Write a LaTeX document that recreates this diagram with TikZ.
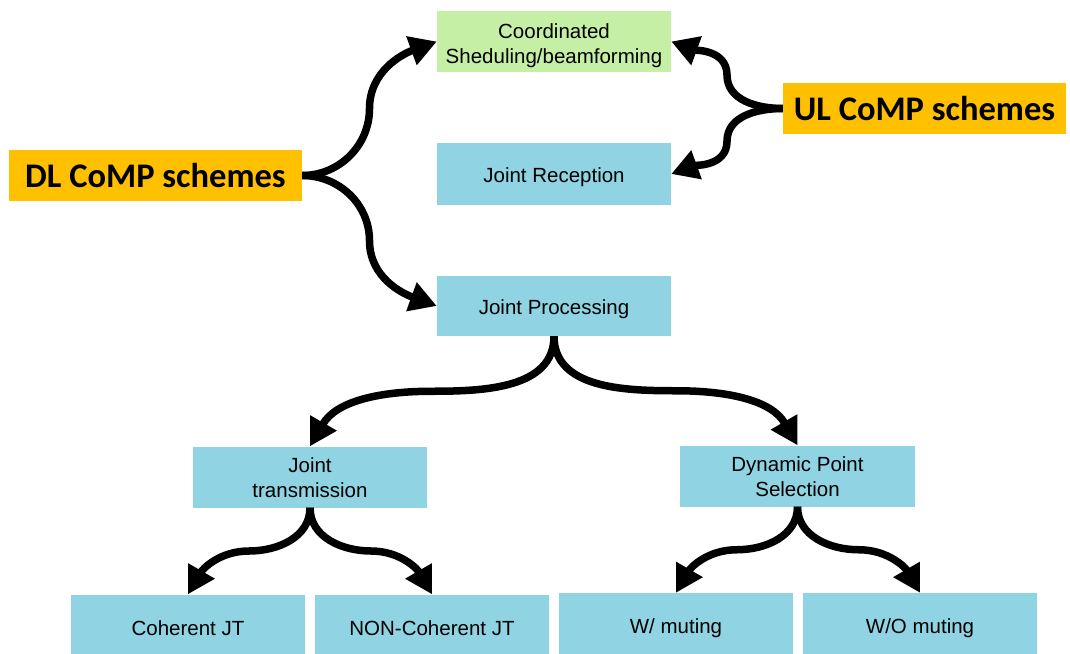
\documentclass[tikz,border=0pt]{standalone}
\usepackage{fontspec}
\setmainfont{Liberation Sans}
\newfontfamily\headfont{Carlito}
\usetikzlibrary{arrows.meta,calc}
\definecolor{boxblue}{RGB}{144,212,228}
\definecolor{boxgreen}{RGB}{198,239,166}
\definecolor{headorange}{RGB}{255,192,0}
\tikzset{
  item/.style={fill=boxblue, draw=none, inner sep=0pt, minimum width=234pt, minimum height=61pt,
    align=center, font=\fontsize{20.5}{25}\selectfont},
  oneline/.style={text height=17.5pt, text depth=0pt},
  head/.style={fill=headorange, draw=none, inner sep=0pt, minimum height=51pt,
    font=\headfont\bfseries\fontsize{34.5}{36}\selectfont},
  conn/.style={line width=7.5pt, -{Triangle[length=27pt,width=29pt]}, black}
}
\begin{document}
\begin{tikzpicture}[x=1pt,y=-1pt]
\useasboundingbox (0,0) rectangle (1070,653);

% scheme headings
\node[head, minimum width=293pt] (dl) at (155.5,175.5) {DL CoMP schemes};
\node[head, minimum width=283pt] (ul) at (924.5,108.5) {UL CoMP schemes};

% first level (the strut lowers the two lines a little)
\node[item, fill=boxgreen] (cs) at (554,41.5) {\rule{0pt}{23pt}Coordinated\\Sheduling/beamforming};
\node[item, oneline, minimum height=62pt] (jr) at (554,174) {Joint Reception};
\node[item, oneline, minimum height=60pt] (jp) at (554,306) {Joint Processing};

% second level
\node[item] (jt) at (310,477) {\rule{0pt}{17pt}Joint\\transmission};
\node[item, minimum width=235pt] (dps) at (797.5,476) {\rule{0pt}{17pt}Dynamic Point\\Selection};

% leaves (running past the lower edge)
\node[item, oneline, minimum height=64pt] (coh) at (188,626.5) {Coherent JT};
\node[item, oneline, minimum height=64pt] (ncoh) at (432,626.5) {NON-Coherent JT};
\node[item, oneline, minimum height=64pt] (wm) at (676,625) {W/ muting};
\node[item, oneline, minimum height=64pt] (wom) at (920,625) {W/O muting};

% brace-shaped connectors
\draw[conn] (dl.east) to[out=0,in=-90] ($(dl.east)!0.5!(cs.west)$) to[out=90,in=200] (cs.west);
\draw[conn] (dl.east) to[out=0,in=90] ($(dl.east)!0.5!(jp.west)$) to[out=-90,in=160] (jp.west);
\draw[conn] (ul.west) to[out=180,in=-90] ($(ul.west)!0.5!(cs.east)$) to[out=90,in=-20] (cs.east);
\draw[conn] (ul.west) to[out=180,in=90] ($(ul.west)!0.5!(jr.east)$) to[out=-90,in=20] (jr.east);

\draw[conn] (jp.south) to[out=-90,in=0] ($(jp.south)!0.5!(jt.north)$) to[out=180,in=60] (jt.north);
\draw[conn] (jp.south) to[out=-90,in=180] ($(jp.south)!0.5!(dps.north)$) to[out=0,in=120] (dps.north);

\draw[conn] (jt.south) to[out=-90,in=0] ($(jt.south)!0.5!(coh.north)$) to[out=180,in=60] (coh.north);
\draw[conn] (jt.south) to[out=-90,in=180] ($(jt.south)!0.5!(ncoh.north)$) to[out=0,in=120] (ncoh.north);
\draw[conn] (dps.south) to[out=-90,in=0] ($(dps.south)!0.5!(wm.north)$) to[out=180,in=60] (wm.north);
\draw[conn] (dps.south) to[out=-90,in=180] ($(dps.south)!0.5!(wom.north)$) to[out=0,in=120] (wom.north);
\end{tikzpicture}
\end{document}
